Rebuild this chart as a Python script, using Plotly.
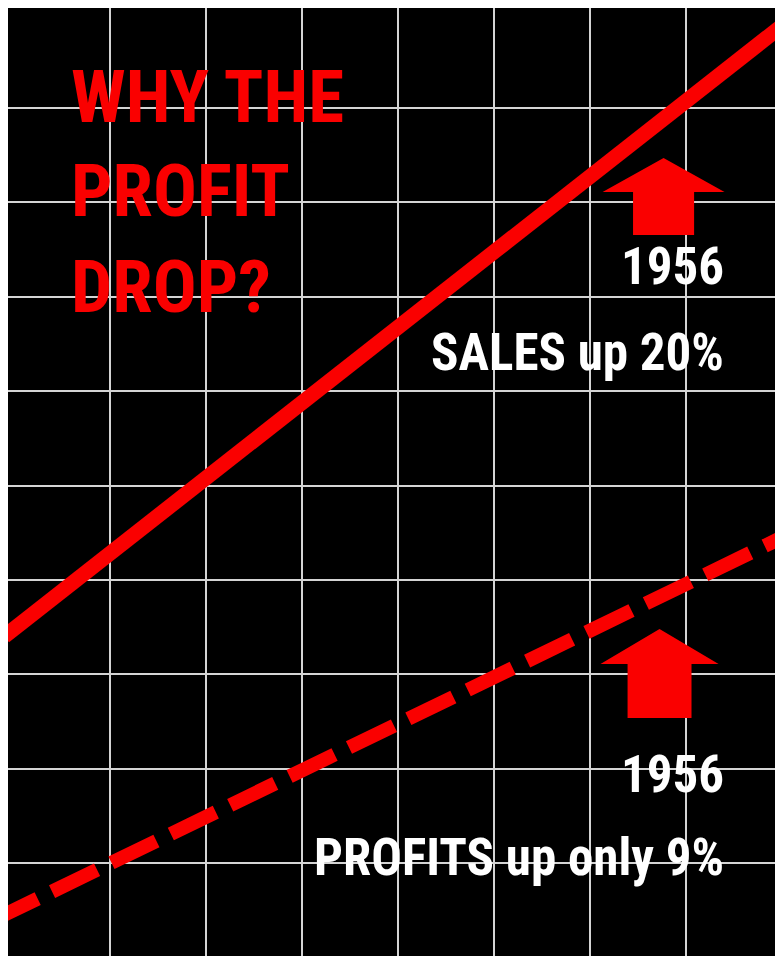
import plotly.graph_objects as go

# ---- data ----
grid_x = [1, 2, 3, 4, 5, 6, 7, 8]
grid_y = [1, 2, 3, 4, 5, 6, 7, 8, 9]

sales_x = [-0.1, 8.1]
sales_y = [3.402, 9.952]

profits_x = [-0.222, 8.1]
profits_y = [0.392, 4.499]

# arrows: centre x, tip y, head-base y, bottom y, head half width, shaft half width
arrow_cx = [6.766, 6.724]
arrow_tip = [8.47, 3.48]
arrow_base = [8.11, 3.109]
arrow_bottom = [7.655, 2.537]
arrow_head_hw = [0.635, 0.615]
arrow_shaft_hw = [0.318, 0.333]

title_lines = ["WHY THE", "PROFIT", "DROP?"]
title_y = [9.122, 8.116, 7.109]
title_x = 0.575

label_texts = ["1956", "SALES up 20%", "1956", "PROFITS up only 9%"]
label_y = [7.316, 6.415, 1.943, 1.054]
label_x = 7.42

RED = "#fa0000"
FONT = ("Noto Sans ExtraCondensed, Roboto Condensed, Liberation Sans Narrow, "
        "Open Sans Condensed, Noto Sans Condensed, DejaVu Sans Condensed, sans-serif")

fig = go.Figure()

fig.add_trace(go.Scatter(x=sales_x, y=sales_y, mode="lines",
                         line=dict(color=RED, width=15), hoverinfo="skip"))
fig.add_trace(go.Scatter(x=profits_x, y=profits_y, mode="lines",
                         line=dict(color=RED, width=14, dash="50px,16px"),
                         hoverinfo="skip"))

for cx, tip, base, bot, hw, sw in zip(arrow_cx, arrow_tip, arrow_base,
                                      arrow_bottom, arrow_head_hw, arrow_shaft_hw):
    px = [cx, cx + hw, cx + sw, cx + sw, cx - sw, cx - sw, cx - hw, cx]
    py = [tip, base, base, bot, bot, base, base, tip]
    fig.add_trace(go.Scatter(x=px, y=py, mode="lines", fill="toself",
                             fillcolor=RED, line=dict(width=0, color=RED),
                             hoverinfo="skip"))

for t, y in zip(title_lines, title_y):
    fig.add_annotation(x=title_x, y=y, xref="x", yref="y", text=t,
                       showarrow=False, xanchor="left", yanchor="middle",
                       font=dict(family=FONT, size=73, color=RED, weight="bold"))

for t, y in zip(label_texts, label_y):
    fig.add_annotation(x=label_x, y=y, xref="x", yref="y", text=t,
                       showarrow=False, xanchor="right", yanchor="middle",
                       font=dict(family=FONT, size=51, color="white", weight="bold"))

fig.update_xaxes(range=[-0.0625, 8.01], tickvals=grid_x, showticklabels=False,
                 showgrid=True, gridcolor="#d4d4d4", gridwidth=1.8,
                 zeroline=False, showline=False, ticks="")
fig.update_yaxes(range=[0.015, 10.06], tickvals=grid_y, showticklabels=False,
                 showgrid=True, gridcolor="#d4d4d4", gridwidth=1.8,
                 zeroline=False, showline=False, ticks="")

fig.update_layout(width=775, height=948, showlegend=False,
                  margin=dict(l=0, r=0, t=0, b=0, pad=0),
                  paper_bgcolor="white", plot_bgcolor="black")

fig.write_html("out.html")
